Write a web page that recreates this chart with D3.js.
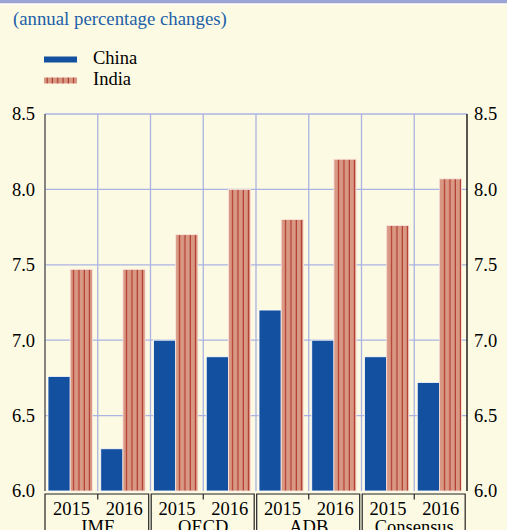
<!DOCTYPE html>
<html><head><meta charset="utf-8">
<script src="https://cdn.jsdelivr.net/npm/d3@7"></script>
<style>body{margin:0;background:#fdfae3;}svg{display:block;} text{font-family:"Liberation Serif","Times New Roman","DejaVu Serif",serif;}</style>
</head><body>
<script>
const sources = ["IMF", "OECD", "ADB", "Consensus"];
const years = ["2015", "2016"];
const china = [6.76, 6.28, 7.0, 6.89, 7.2, 7.0, 6.89, 6.72];
const india = [7.47, 7.47, 7.7, 8.0, 7.8, 8.2, 7.76, 8.07];
const yTicks = [6.0, 6.5, 7.0, 7.5, 8.0, 8.5];
const seriesNames = ["China", "India"];

const W = 507, H = 530;
const svg = d3.select("body").append("svg").attr("width", W).attr("height", H);

svg.append("rect").attr("width", W).attr("height", H).attr("fill", "#fdfae3");
svg.append("rect").attr("width", W).attr("height", 3.5).attr("fill", "#9ba4d4");
svg.append("rect").attr("y", 3.5).attr("width", W).attr("height", 1.2).attr("fill", "#ffffff");

const defs = svg.append("defs");
const pat = defs.append("pattern").attr("id", "stripes").attr("patternUnits", "userSpaceOnUse")
  .attr("width", 5.3).attr("height", 10);
pat.append("rect").attr("width", 5.3).attr("height", 10).attr("fill", "#d99884");
pat.append("rect").attr("x", 4.2).attr("width", 1.3).attr("height", 10).attr("fill", "#ad3328");

const left = 45, right = 467;
const groups = [];
sources.forEach(s => years.forEach(y => groups.push(s + "|" + y)));
const x = d3.scaleBand().domain(groups).range([left, right]).paddingInner(0).paddingOuter(0);
const y = d3.scaleLinear().domain([6.0, 8.5]).range([491, 114]);
const xs = d3.scaleBand().domain(sources).range([left, right]);

// title
svg.append("text").attr("x", 13).attr("y", 25).attr("font-size", 18.8)
  .attr("fill", "#2160a8").text("(annual percentage changes)");

// legend
const leg = svg.append("g");
leg.append("rect").attr("x", 44).attr("y", 56.5).attr("width", 33).attr("height", 6).attr("fill", "#1450a0");
leg.append("rect").attr("x", 44).attr("y", 77.5).attr("width", 33).attr("height", 6).attr("fill", "url(#stripes)");
leg.append("text").attr("x", 93).attr("y", 63.5).attr("font-size", 18.5).text(seriesNames[0]);
leg.append("text").attr("x", 93).attr("y", 84.5).attr("font-size", 18.5).text(seriesNames[1]);

// gridlines
const grid = svg.append("g");
yTicks.filter(t => t > 6.0).forEach(t => {
  grid.append("line").attr("x1", left).attr("x2", right).attr("y1", y(t)).attr("y2", y(t))
    .attr("stroke", "#aab3e2").attr("stroke-width", 1.3);
});
groups.slice(1).forEach(g => {
  grid.append("line").attr("x1", x(g)).attr("x2", x(g)).attr("y1", y(8.5)).attr("y2", y(6.0))
    .attr("stroke", "#aab3e2").attr("stroke-width", 1.3);
});

// bars
const bw = 22.2;
const bars = svg.append("g");
groups.forEach((g, i) => {
  const gx = x(g) + 3;
  bars.append("rect").attr("x", gx).attr("y", y(china[i])).attr("width", bw).attr("height", y(6.0) - y(china[i]))
    .attr("fill", "#1450a0").attr("stroke", "#ffffff").attr("stroke-width", 0.8);
  bars.append("rect").attr("x", gx + bw).attr("y", y(india[i])).attr("width", bw).attr("height", y(6.0) - y(india[i]))
    .attr("fill", "url(#stripes)").attr("stroke", "#fbe6df").attr("stroke-width", 0.8);
});

// axes lines
svg.append("line").attr("x1", left).attr("x2", left).attr("y1", y(8.5)).attr("y2", y(6.0))
  .attr("stroke", "#666666").attr("stroke-width", 1.6);
svg.append("line").attr("x1", right).attr("x2", right).attr("y1", y(8.5)).attr("y2", y(6.0))
  .attr("stroke", "#000000").attr("stroke-width", 1.3);

// y labels
const fmt = d3.format(".1f");
yTicks.forEach(t => {
  svg.append("text").attr("x", 35).attr("y", y(t)).attr("dy", "0.35em").attr("text-anchor", "end")
    .attr("font-size", 18.5).text(fmt(t));
  svg.append("text").attr("x", 474).attr("y", y(t)).attr("dy", "0.35em").attr("text-anchor", "start")
    .attr("font-size", 18.5).text(fmt(t));
});

// bottom category boxes
const bot = svg.append("g").attr("stroke", "#222").attr("stroke-width", 1.2).attr("fill", "none");
sources.forEach((s, i) => {
  const L = xs(s) + (i === 0 ? 0 : 0.7), R = xs(s) + xs.bandwidth() - 1.8;
  const M = xs(s) + xs.bandwidth() / 2;
  bot.append("path").attr("d", `M${L},${H}V494H${R}V${H}`);
  bot.append("line").attr("x1", M).attr("x2", M).attr("y1", 494).attr("y2", 499.5);
});
groups.forEach(g => {
  const yr = g.split("|")[1];
  svg.append("text").attr("x", x(g) + x.bandwidth() / 2).attr("y", 515).attr("text-anchor", "middle")
    .attr("font-size", 18.5).text(yr);
});
sources.forEach(s => {
  svg.append("text").attr("x", xs(s) + xs.bandwidth() / 2).attr("y", 533).attr("text-anchor", "middle")
    .attr("font-size", 18.5).text(s);
});
</script>
</body></html>
